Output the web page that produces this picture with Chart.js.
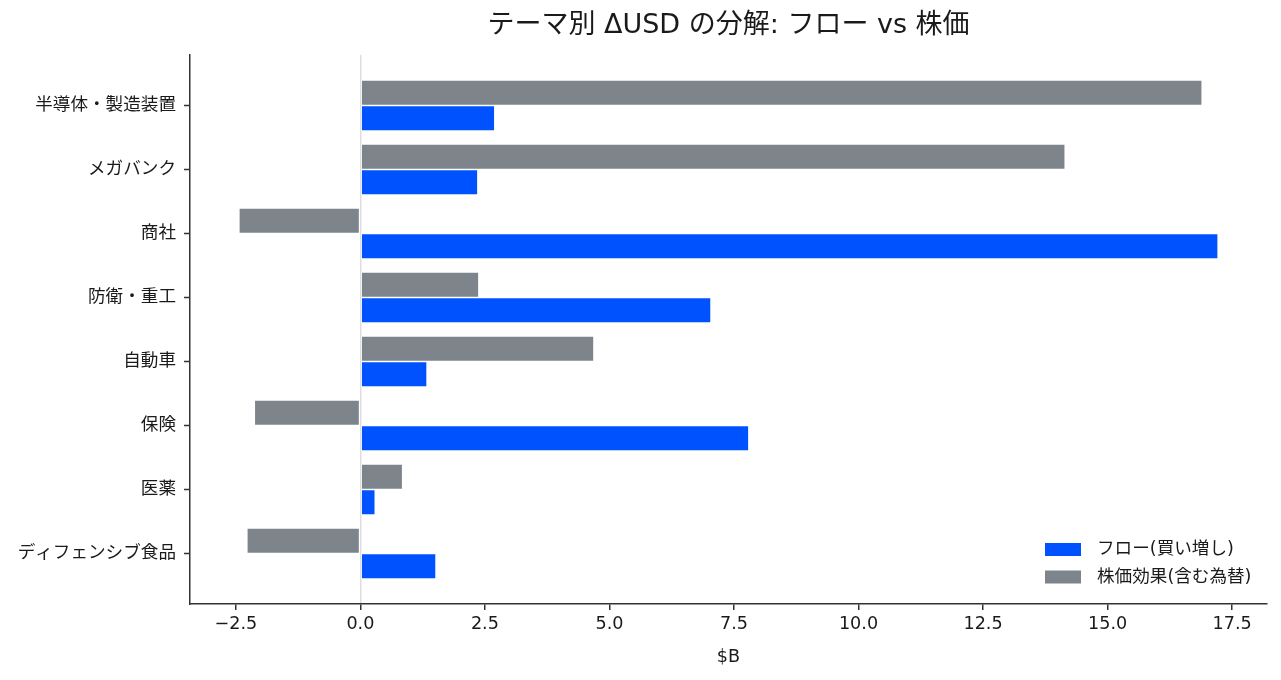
<!DOCTYPE html>
<html>
<head>
<meta charset="utf-8">
<script src="https://cdn.jsdelivr.net/npm/chart.js@4.4.1/dist/chart.umd.min.js"></script>
<style>
  html, body { margin: 0; padding: 0; background: #fff; }
  #wrap { width: 1281px; height: 680px; position: relative; }
</style>
</head>
<body>
<div id="wrap"><canvas id="c" width="1281" height="680"></canvas></div>
<script>
const categories = ["半導体・製造装置", "メガバンク", "商社", "防衛・重工", "自動車", "保険", "医薬", "ディフェンシブ食品"];
const flowValues = [2.70, 2.36, 17.22, 7.04, 1.34, 7.80, 0.30, 1.52];
const stockValues = [16.90, 14.15, -2.44, 2.38, 4.69, -2.13, 0.85, -2.28];
const xTicks = [-2.5, 0.0, 2.5, 5.0, 7.5, 10.0, 12.5, 15.0, 17.5];
const chartTitle = "テーマ別 ΔUSD の分解: フロー vs 株価";
const xLabel = "$B";
const flowLabel = "フロー(買い増し)";
const stockLabel = "株価効果(含む為替)";

const FONT = '"DejaVu Sans", "Noto Sans CJK JP", sans-serif';
const BLUE = '#0052ff';
const GRAY = '#7e848c';
const TEXT = '#1a1a1a';
const SPINE = '#333333';

const overlay = {
  id: 'overlay',
  afterDraw(chart) {
    const ctx = chart.ctx;
    const ca = chart.chartArea;
    ctx.save();
    ctx.fillStyle = TEXT;
    ctx.textBaseline = 'middle';
    // title
    ctx.font = '27px ' + FONT;
    ctx.textAlign = 'center';
    ctx.fillText(chartTitle, (ca.left + ca.right) / 2, 26);
    // x label
    ctx.font = '17.6px ' + FONT;
    ctx.fillText(xLabel, (ca.left + ca.right) / 2, 657);
    // legend
    const ds = chart.data.datasets;
    const order = [1, 0];
    const bx = ca.right - 222;
    const rows = [ca.bottom - 54.5, ca.bottom - 27];
    ctx.textAlign = 'left';
    order.forEach((di, k) => {
      ctx.fillStyle = ds[di].backgroundColor;
      ctx.fillRect(bx, rows[k] - 6.5, 36, 13);
      ctx.fillStyle = TEXT;
      ctx.font = '17.6px ' + FONT;
      ctx.fillText(ds[di].label, bx + 52, rows[k]);
    });
    ctx.restore();
  }
};

new Chart(document.getElementById('c'), {
  type: 'bar',
  data: {
    datasets: [
      {
        label: stockLabel,
        data: stockValues.map((v, i) => ({ x: v, y: i })),
        backgroundColor: GRAY,
        borderColor: '#ffffff',
        borderWidth: 0.8,
        borderSkipped: false
      },
      {
        label: flowLabel,
        data: flowValues.map((v, i) => ({ x: v, y: i })),
        backgroundColor: BLUE,
        borderColor: '#ffffff',
        borderWidth: 0.8,
        borderSkipped: false
      }
    ]
  },
  options: {
    indexAxis: 'y',
    responsive: false,
    animation: false,
    categoryPercentage: 0.8,
    barPercentage: 1.0,
    layout: { padding: { top: 55, right: 14, left: 0, bottom: 0 } },
    plugins: {
      legend: { display: false },
      title: { display: false },
      tooltip: { enabled: false }
    },
    scales: {
      x: {
        type: 'linear',
        min: -3.42,
        max: 18.2,
        offset: false,
        afterFit(scale) { scale.height = 76; },
        afterBuildTicks(scale) { scale.ticks = xTicks.map(v => ({ value: v })); },
        border: { display: true, color: SPINE, width: 1.5 },
        grid: {
          offset: false,
          drawOnChartArea: true,
          color: (c) => (c.tick && c.tick.value === 0 ? '#dddde3' : 'rgba(0,0,0,0)'),
          lineWidth: 1.5,
          tickColor: SPINE,
          tickLength: 6,
          tickWidth: 1.5
        },
        ticks: {
          color: TEXT,
          font: { family: FONT, size: 17.6 },
          padding: 4,
          maxRotation: 0,
          callback: (v) => (v < 0 ? '\u2212' : '') + Math.abs(v).toFixed(1)
        }
      },
      y: {
        type: 'linear',
        reverse: true,
        min: -0.79,
        max: 7.79,
        offset: false,
        afterFit(scale) { scale.width = 190; },
        afterBuildTicks(scale) { scale.ticks = categories.map((c, i) => ({ value: i })); },
        border: { display: true, color: SPINE, width: 1.5 },
        grid: {
          offset: false,
          drawOnChartArea: false,
          tickColor: SPINE,
          tickLength: 6,
          tickWidth: 1.5
        },
        ticks: {
          color: TEXT,
          font: { family: FONT, size: 17.6 },
          padding: 8,
          callback: (v) => categories[v] !== undefined ? categories[v] : ''
        }
      }
    }
  },
  plugins: [overlay]
});
</script>
</body>
</html>
